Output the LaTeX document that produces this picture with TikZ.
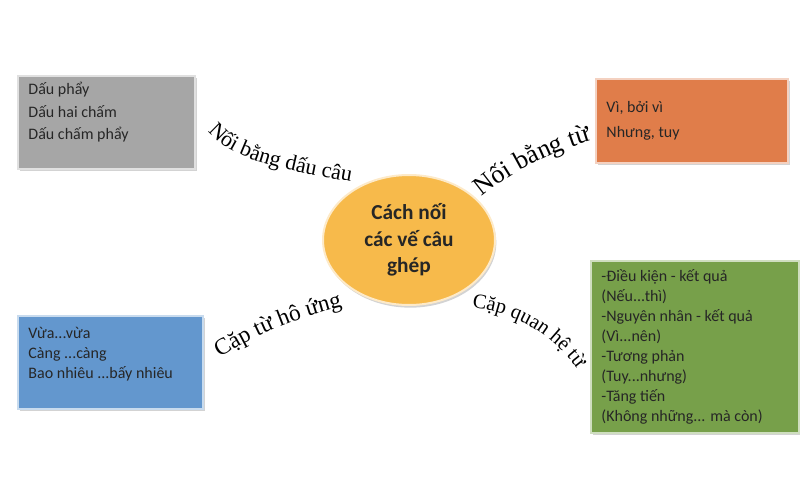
\documentclass[tikz,border=0pt]{standalone}
\usepackage{fontspec}
\newfontfamily\boxfont{Carlito}
\newfontfamily\artfont{Liberation Serif}
\usetikzlibrary{shapes.geometric, shadows, decorations.text}

\definecolor{grayfill}{HTML}{A6A6A6}
\definecolor{orangefill}{HTML}{E07D4A}
\definecolor{bluefill}{HTML}{6397CE}
\definecolor{greenfill}{HTML}{77A04A}
\definecolor{hubfill}{HTML}{F7BA4B}
\definecolor{textdark}{HTML}{262626}

\begin{document}
\begin{tikzpicture}[
  x=0.75pt, y=-0.75pt,
  box/.style={draw=#1!35!white, fill=#1, line width=1.2pt, rectangle, anchor=north west, align=flush left, text=textdark, inner xsep=8pt, drop shadow={shadow xshift=1.5pt, shadow yshift=-1.5pt, opacity=0.35}},
  hub/.style={ellipse, draw=hubfill!30!white, fill=hubfill, line width=1.5pt, minimum width=129pt, minimum height=97.5pt, align=flush center, text=textdark, font=\boxfont\bfseries\fontsize{16}{20}\selectfont, drop shadow={shadow xshift=1pt, shadow yshift=-2pt, opacity=0.35}},
  wordart/.style 2 args={decorate, decoration={text along path, text color=black, text={|\artfont\fontsize{#1}{#1}\selectfont|#2}}}
]
\useasboundingbox (0,0) rectangle (800,500);

% Centre ellipse
\node[hub] (hub) at (409,240) {Cách nối\\các vế câu\\ghép};

% Upper left box
\node[box=grayfill, text width=117pt, minimum height=70pt, font=\boxfont\fontsize{12}{17}\selectfont] (dau) at (17,75) {Dấu phẩy\\Dấu hai chấm\\Dấu chấm phẩy\\~};

% Upper right box
\node[box=orangefill, text width=128pt, minimum height=63pt, font=\boxfont\fontsize{12}{18.75}\selectfont] (tu) at (595,78) {Vì, bởi vì\\Nhưng, tuy};

% Lower left box
\node[box=bluefill, text width=123pt, minimum height=70pt, font=\boxfont\fontsize{12}{15}\selectfont] (houng) at (17,315) {Vừa...vừa\\Càng ...càng\\Bao nhiêu ...bấy nhiêu\\~};

% Lower right box
\node[box=greenfill, text width=140pt, minimum height=129pt, font=\boxfont\fontsize{12}{15}\selectfont] (quanhe) at (590,260) {-Điều kiện - kết quả\\(Nếu...thì)\\-Nguyên nhân - kết quả\\(Vì...nên)\\-Tương phản\\(Tuy...nhưng)\\-Tăng tiến\\(Không những... mà còn)};

% Curved labels
\path[wordart={16.5pt}{Nối bằng dấu câu}] (208,131) .. controls (230,160) and (285,170) .. (352,182);
\path[wordart={19.5pt}{Nối bằng từ}] (482,197) .. controls (512,172) and (550,152) .. (600,138);
\path[wordart={17.5pt}{Cặp từ hô ứng}] (220,358) .. controls (255,335) and (295,318) .. (345,306);
\path[wordart={15.5pt}{Cặp quan hệ từ}] (472,308) .. controls (508,312) and (545,326) .. (578,370);

\end{tikzpicture}
\end{document}
